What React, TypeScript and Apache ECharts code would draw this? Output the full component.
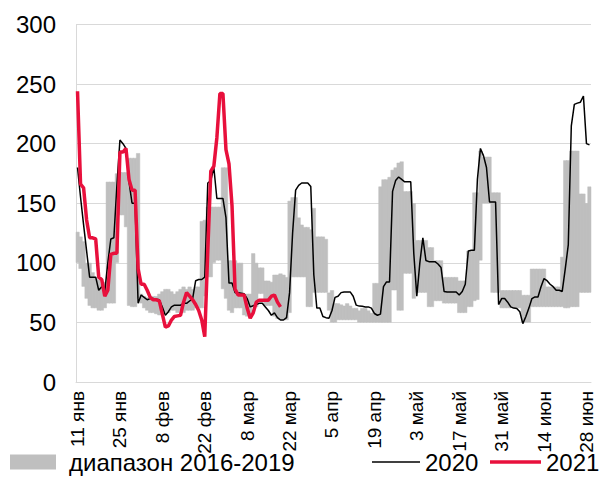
import React, { useEffect, useRef } from "react";
import * as echarts from "echarts";

// Daily categories: 11 Jan .. 29 Jun
const MONTHS = ["янв", "фев", "мар", "апр", "май", "июн"];
const DAYS_IN_MONTH = [31, 28, 31, 30, 31, 30];
const START_MONTH = 0;
const START_DAY = 11;
const N_DAYS = 170;

function buildCategories(): string[] {
  const out: string[] = [];
  let m = START_MONTH;
  let d = START_DAY;
  for (let i = 0; i < N_DAYS; i++) {
    out.push(d + " " + MONTHS[m]);
    d++;
    if (d > DAYS_IN_MONTH[m]) {
      d = 1;
      m++;
    }
  }
  return out;
}
const CATEGORIES = buildCategories();

const RANGE_LOW = [
  100, 95, 80, 70, 64, 62, 62, 60, 60, 62,
  66, 66, 66, 100, 140, 140, 130, 64, 63, 63,
  70, 66, 62, 60, 58, 58, 57, 56, 57, 58,
  58, 60, 60, 58, 60, 58, 60, 60, 60, 62,
  62, 62, 72, 88, 88, 100, 102, 102, 78, 70,
  60, 58, 62, 62, 62, 56, 55, 55, 63, 63,
  74, 74, 64, 64, 64, 55, 53, 52, 52, 52,
  58, 88, 88, 88, 88, 88, 63, 63, 75, 75,
  75, 75, 75, 60, 50, 50, 52, 52, 52, 52,
  52, 52, 52, 50, 50, 50, 50, 50, 50, 50,
  50, 50, 50, 50, 77, 77, 60, 60, 91, 91,
  91, 70, 75, 75, 75, 75, 63, 63, 68, 68,
  68, 66, 66, 66, 66, 66, 58, 58, 58, 63,
  63, 68, 69, 102, 150, 150, 150, 75, 75, 75,
  62, 62, 62, 62, 62, 62, 62, 50, 50, 50,
  63, 63, 63, 63, 63, 63, 63, 63, 63, 63,
  63, 62, 62, 63, 63, 63, 75, 75, 75, 75,
];

const RANGE_HIGH = [
  126, 122, 118, 100, 100, 92, 88, 86, 82, 84,
  168, 168, 168, 175, 176, 176, 176, 188, 188, 188,
  192, 74, 72, 71, 70, 72, 72, 74, 76, 78,
  78, 76, 74, 76, 78, 80, 78, 80, 78, 80,
  80, 135, 136, 147, 147, 147, 147, 147, 180, 180,
  102, 102, 102, 100, 100, 74, 74, 74, 108, 100,
  96, 96, 85, 85, 84, 90, 90, 91, 90, 88,
  152, 155, 155, 138, 132, 130, 130, 128, 146, 122,
  122, 122, 120, 75, 77, 66, 66, 65, 64, 66,
  64, 62, 62, 60, 62, 62, 60, 58, 83, 83,
  164, 170, 170, 172, 178, 180, 184, 185, 160, 160,
  160, 150, 119, 119, 119, 119, 113, 113, 102, 102,
  102, 88, 88, 88, 88, 88, 85, 85, 85, 110,
  110, 159, 159, 194, 189, 189, 189, 159, 159, 159,
  77, 77, 77, 77, 77, 77, 77, 73, 73, 73,
  95, 95, 95, 95, 95, 80, 80, 80, 80, 80,
  105, 186, 186, 194, 194, 194, 158, 158, 150, 164,
];

const LINE_2020 = [
  180, 155, 132, 110, 88, 88, 88, 77, 80, 76,
  100, 120, 121, 165, 203, 200, 196, 168, 150, 150,
  66, 73, 71, 69, 70, 70, 69.5, 69, 63, 56,
  59, 63, 64.5, 64.5, 64.5, 66, 66, 68, 70, 85,
  86, 86, 88, 167, 169, 180, 154, 154, 154, 138,
  83, 83, 75, 75, 74.5, 74, 70, 63, 64, 65,
  66, 66, 63, 60, 56, 58, 54, 52, 52, 54,
  75, 125, 161, 165, 167, 167, 167, 164, 90, 62,
  62, 55, 54, 53.5, 60, 71, 72, 75, 75.5, 75.6,
  75.6, 72, 64.5, 63.7, 63.5, 63, 63, 62, 57.5, 56,
  57, 80, 84, 84, 160, 169, 172, 170, 168, 168,
  168, 108, 72, 100, 121, 102, 101, 101, 101, 99,
  96, 76, 75.6, 75.6, 75.6, 75.6, 73, 76, 82, 110,
  110.5, 110.5, 170, 196, 190, 180, 151, 151, 151, 65,
  70, 70, 67, 63, 62, 61.7, 59, 49, 55, 62,
  70, 71.4, 71.4, 80, 86.8, 85, 82, 80, 77, 77,
  76, 95, 115, 215, 233, 234, 234.8, 240, 200, 199,
];

const LINE_2021 = [
  244, 166, 163, 136, 121, 121, 120, 88, 86, 72,
  77, 107, 108, 108, 193, 193, 196, 170, 161, 161,
  95, 82, 82, 77, 71, 69, 69, 68, 57, 46,
  47, 52, 55, 55.5, 56, 67, 75, 72, 69, 65,
  60, 52, 38, 110, 177, 181, 205, 242, 242, 195,
  183, 148, 78, 73, 73, 73, 62, 53.5, 58, 67,
  68.7, 68.7, 68.7, 68.7, 72, 73, 67, 63,
];

const Y_MIN = 0;
const Y_MAX = 300;
const Y_STEP = 50;

const NAME_RANGE = "диапазон 2016-2019";
const NAME_2020 = "2020";
const NAME_2021 = "2021";

const FONT = "'Liberation Sans', Arial, sans-serif";
const RED = "#e8103c";

export default function App() {
  const ref = useRef<HTMLDivElement>(null);

  useEffect(() => {
    document.body.style.margin = "0";
    if (!ref.current) return;
    const chart = echarts.init(ref.current, undefined, { renderer: "svg" });
    const rangeSpan = RANGE_HIGH.map((h, i) => h - RANGE_LOW[i]);

    const legendText = { fontSize: 24, color: "#000", fontFamily: FONT };

    chart.setOption({
      animation: false,
      textStyle: { fontFamily: FONT },
      grid: { left: 76, right: 9, top: 24.5, bottom: 118, containLabel: false },
      legend: [
        {
          data: [{ name: NAME_RANGE, icon: "rect" }],
          left: 10,
          top: 450,
          padding: 0,
          itemWidth: 44,
          itemHeight: 13,
          textStyle: { ...legendText, padding: [0, 0, 0, 9] },
        },
        {
          data: [{ name: NAME_2020, icon: "rect" }],
          left: 372,
          top: 450,
          padding: 0,
          itemWidth: 48,
          itemHeight: 1.5,
          textStyle: legendText,
        },
        {
          data: [{ name: NAME_2021, icon: "rect" }],
          left: 490,
          top: 450,
          padding: 0,
          itemWidth: 51,
          itemHeight: 3.5,
          textStyle: legendText,
        },
      ],
      xAxis: {
        type: "category",
        data: CATEGORIES,
        boundaryGap: true,
        axisLine: { lineStyle: { color: "#d9d9d9", width: 1 } },
        axisTick: { show: false },
        axisLabel: {
          interval: 13,
          rotate: 90,
          fontSize: 19,
          color: "#000",
          margin: 9,
          fontFamily: FONT,
        },
        splitLine: { show: false },
      },
      yAxis: {
        type: "value",
        min: Y_MIN,
        max: Y_MAX,
        interval: Y_STEP,
        axisLine: { show: true, lineStyle: { color: "#d9d9d9", width: 1 } },
        axisTick: { show: false },
        axisLabel: { fontSize: 24, color: "#000", margin: 20, fontFamily: FONT },
        splitLine: { lineStyle: { color: "#d9d9d9", width: 1 } },
      },
      series: [
        {
          name: "base",
          type: "bar",
          stack: "range",
          data: RANGE_LOW,
          itemStyle: { color: "rgba(0,0,0,0)" },
          barWidth: 4,
          barCategoryGap: "0%",
          silent: true,
        },
        {
          name: NAME_RANGE,
          type: "bar",
          stack: "range",
          data: rangeSpan,
          itemStyle: { color: "#bfbfbf", borderColor: "#bfbfbf", borderWidth: 0.5 },
          barWidth: 4,
          barCategoryGap: "0%",
        },
        {
          name: NAME_2020,
          type: "line",
          data: LINE_2020,
          symbol: "none",
          lineStyle: { color: "#000", width: 1.5 },
          itemStyle: { color: "#000" },
          z: 3,
        },
        {
          name: NAME_2021,
          type: "line",
          data: LINE_2021,
          symbol: "none",
          lineStyle: { color: RED, width: 3.5 },
          itemStyle: { color: RED },
          z: 4,
        },
      ],
    });

    return () => chart.dispose();
  }, []);

  return <div ref={ref} style={{ width: 600, height: 500 }} />;
}
